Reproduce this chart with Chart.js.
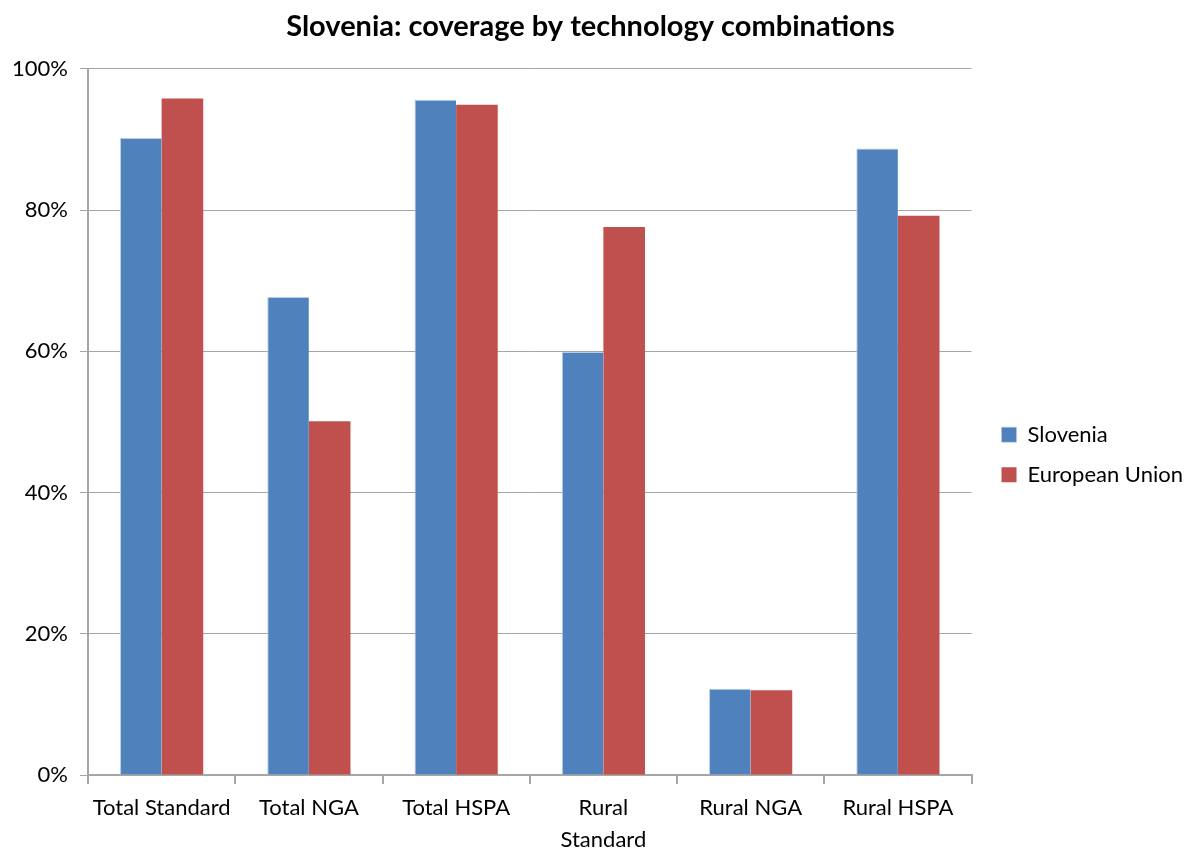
<!DOCTYPE html>
<html>
<head>
<meta charset="utf-8">
<script src="https://cdn.jsdelivr.net/npm/chart.js@4/dist/chart.umd.min.js"></script>
<style>
  html, body { margin: 0; padding: 0; background: #fff; }
  #wrap { width: 1185px; height: 848px; }
</style>
</head>
<body>
<div id="wrap"><canvas id="chart-area" width="1185" height="848"></canvas></div>
<script>
var categories = ['Total Standard', 'Total NGA', 'Total HSPA', ['Rural', 'Standard'], 'Rural NGA', 'Rural HSPA'];
var slovenia = [90.2, 67.7, 95.6, 59.9, 12.2, 88.7];
var europeanUnion = [95.8, 50.1, 94.9, 77.6, 12.0, 79.2];
var yTicks = [0, 20, 40, 60, 80, 100];

var axisGrey = '#A6A6A6';
var fontFamily = 'Lato, "Open Sans", sans-serif';

// nudge the legend a bit to the right of the plot, like the original
var legendNudge = {
  id: 'legendNudge',
  afterLayout: function (chart) {
    chart.legend.left += 12;
    chart.legend.right += 12;
  }
};

function getConfig() {
  var config = {
    type: 'bar',
    data: {
      labels: categories,
      datasets: [{
        label: 'Slovenia',
        backgroundColor: '#4F81BD',
        borderColor: '#B9CDE5',
        borderWidth: { top: 1, left: 1, right: 0, bottom: 0 },
        data: slovenia
      }, {
        label: 'European Union',
        backgroundColor: '#C0504D',
        borderWidth: 0,
        data: europeanUnion
      }]
    },
    options: {
      responsive: false,
      animation: false,
      layout: { padding: { left: 0, right: 4, top: 9, bottom: 0 } },
      categoryPercentage: 0.565,
      barPercentage: 1.0,
      plugins: {
        title: {
          display: true,
          text: 'Slovenia: coverage by technology combinations',
          color: '#000',
          font: { family: fontFamily, size: 29, weight: 'bold' },
          padding: { top: 0, bottom: 25 }
        },
        legend: {
          position: 'right',
          title: {
            display: true,
            text: ' ',
            font: { size: 12 },
            padding: { top: 0, bottom: 38 }
          },
          labels: {
            color: '#000',
            font: { family: fontFamily, size: 22 },
            boxWidth: 15,
            boxHeight: 15,
            padding: 18
          }
        },
        tooltip: { enabled: false }
      },
      scales: {
        x: {
          grid: {
            display: true,
            drawOnChartArea: false,
            drawTicks: true,
            tickLength: 9,
            offset: true,
            color: axisGrey,
            lineWidth: 2
          },
          border: { color: axisGrey, width: 2 },
          ticks: {
            color: '#000',
            font: { family: fontFamily, size: 22, lineHeight: 1.45 },
            maxRotation: 0,
            padding: 8
          },
          afterFit: function (scale) { scale.height = 73; }
        },
        y: {
          min: 0,
          max: 100,
          afterBuildTicks: function (scale) {
            scale.ticks = yTicks.map(function (v) { return { value: v }; });
          },
          grid: {
            color: axisGrey,
            lineWidth: 1,
            drawTicks: true,
            tickLength: 8
          },
          border: { color: axisGrey, width: 2 },
          ticks: {
            color: '#000',
            font: { family: fontFamily, size: 22 },
            padding: 12,
            callback: function (v) { return v + '%'; }
          },
          afterFit: function (scale) { scale.width = 88; }
        }
      }
    },
    plugins: [legendNudge]
  };
  return config;
}

var ctx = document.getElementById('chart-area').getContext('2d');
window.myBar = new Chart(ctx, getConfig());
</script>
</body>
</html>
